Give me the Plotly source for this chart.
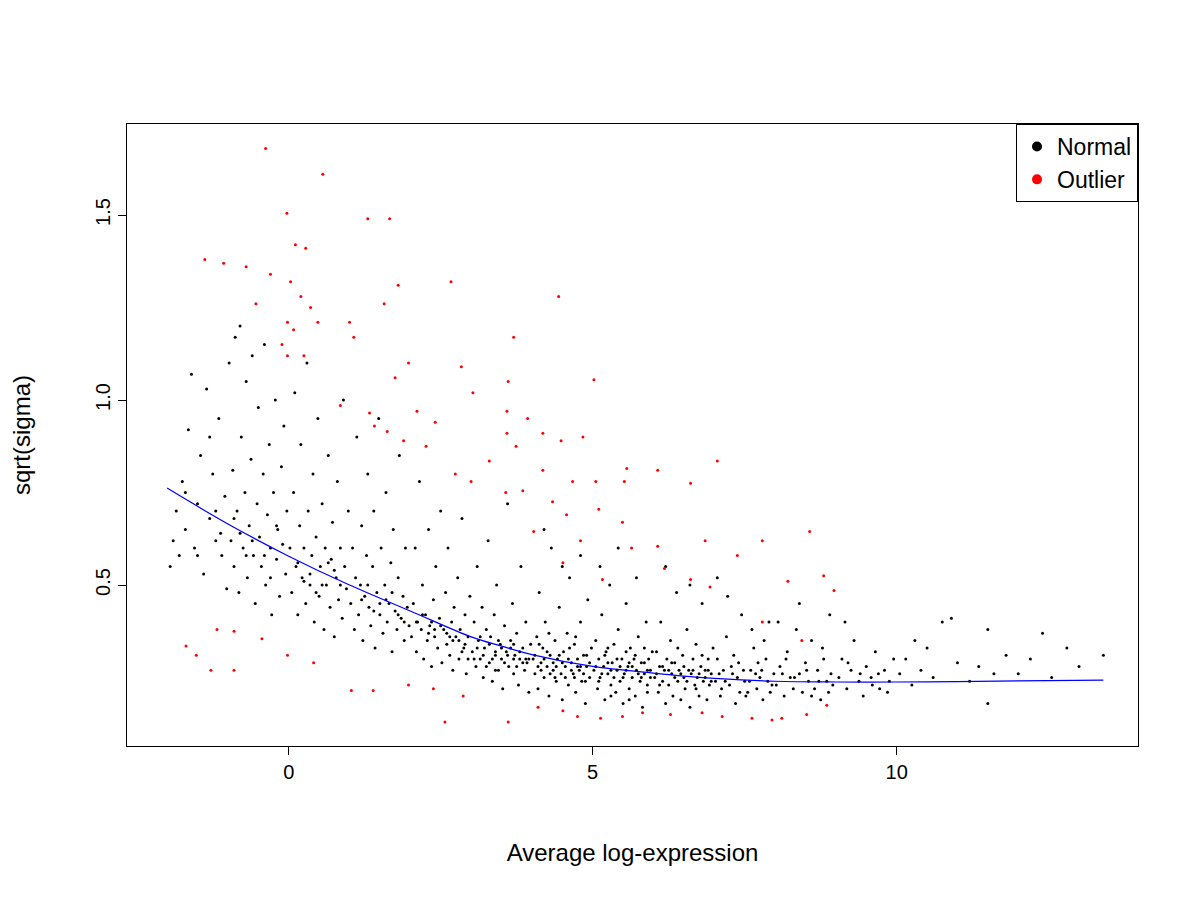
import plotly.graph_objects as go

# Points (Average log-expression, sqrt(sigma))
normal_pts = [
    (-1.95,0.55),(-1.9,0.62),(-1.85,0.7),(-1.8,0.58),(-1.75,0.78),(-1.7,0.65),(-1.65,0.92),(-1.6,1.07),(-1.55,0.6),(-1.5,0.72),
    (-1.45,0.85),(-1.4,0.53),(-1.35,1.03),(-1.3,0.68),(-1.25,0.8),(-1.2,0.62),(-1.15,0.95),(-1.1,0.58),(-1.05,0.74),(-1.02,0.49),
    (-1.7,0.75),(-1.5,0.58),(-1.3,0.9),(-1.2,0.7),(-1.12,0.64),
    (-0.98,1.1),(-0.95,0.62),(-0.92,0.81),(-0.9,0.55),(-0.88,1.17),(-0.85,0.7),(-0.82,0.48),(-0.8,1.2),(-0.78,0.9),(-0.75,0.6),
    (-0.72,0.75),(-0.7,1.05),(-0.68,0.52),(-0.65,0.66),(-0.62,0.84),(-0.6,1.12),(-0.58,0.58),(-0.55,0.45),(-0.52,0.72),(-0.5,0.98),
    (-0.48,0.63),(-0.45,0.55),(-0.42,0.8),(-0.4,1.15),(-0.38,0.5),(-0.35,0.69),(-0.32,0.88),(-0.3,0.6),(-0.28,0.42),(-0.25,0.75),
    (-0.22,1.0),(-0.2,0.57),(-0.18,0.65),(-0.15,0.47),(-0.12,0.82),(-0.1,0.61),(-0.08,0.93),(-0.05,0.53),(-0.03,0.7),(-0.6,0.62),
    (-0.4,0.58),(-0.2,0.66),(-0.8,0.64),(-0.9,0.68),(-0.7,0.58),(-0.3,0.52),
    (0.02,0.6),(0.05,0.48),(0.08,0.75),(0.1,1.02),(0.12,0.55),(0.15,0.42),(0.18,0.66),(0.2,0.88),(0.22,0.52),(0.25,0.6),
    (0.28,0.45),(0.3,1.1),(0.32,0.7),(0.35,0.5),(0.38,0.58),(0.4,0.8),(0.42,0.4),(0.45,0.63),(0.48,0.95),(0.5,0.47),
    (0.52,0.55),(0.55,0.72),(0.58,0.38),(0.6,0.6),(0.62,0.5),(0.65,0.85),(0.68,0.44),(0.7,0.57),(0.72,0.67),(0.75,0.36),
    (0.78,0.52),(0.8,0.78),(0.82,0.46),(0.85,0.6),(0.88,0.41),(0.9,1.0),(0.92,0.55),(0.95,0.49),(0.98,0.7),(0.15,0.56),
    (0.35,0.53),(0.55,0.5),(0.75,0.54),(0.45,0.48),(0.65,0.56),(0.25,0.51),(0.85,0.5),
    (1.02,0.45),(1.05,0.6),(1.08,0.38),(1.1,0.52),(1.12,0.9),(1.15,0.42),(1.18,0.5),(1.2,0.66),(1.22,0.35),(1.25,0.47),
    (1.28,0.58),(1.3,0.8),(1.32,0.44),(1.35,0.39),(1.38,0.55),(1.4,0.7),(1.42,0.33),(1.45,0.48),(1.48,0.95),(1.5,0.42),
    (1.52,0.6),(1.55,0.37),(1.58,0.5),(1.6,0.75),(1.62,0.4),(1.65,0.45),(1.68,0.56),(1.7,0.32),(1.72,0.65),(1.75,0.43),
    (1.78,0.38),(1.8,0.52),(1.82,0.85),(1.85,0.41),(1.88,0.47),(1.9,0.35),(1.92,0.6),(1.95,0.44),(1.98,0.39),(1.2,0.46),
    (1.4,0.43),(1.6,0.46),(1.8,0.42),(1.3,0.5),(1.5,0.45),(1.7,0.48),(1.9,0.4),
    (2.02,0.36),(2.05,0.45),(2.08,0.6),(2.1,0.32),(2.12,0.4),(2.15,0.78),(2.18,0.38),(2.2,0.5),(2.22,0.3),(2.25,0.42),
    (2.28,0.35),(2.3,0.65),(2.32,0.39),(2.35,0.28),(2.38,0.46),(2.4,0.36),(2.42,0.55),(2.45,0.33),(2.48,0.41),(2.5,0.7),
    (2.52,0.29),(2.55,0.38),(2.58,0.48),(2.6,0.34),(2.62,0.6),(2.65,0.31),(2.68,0.4),(2.7,0.27),(2.72,0.44),(2.75,0.36),
    (2.78,0.52),(2.8,0.3),(2.82,0.38),(2.85,0.68),(2.88,0.33),(2.9,0.42),(2.92,0.26),(2.95,0.36),(2.98,0.47),(2.1,0.4),
    (2.3,0.37),(2.5,0.39),(2.7,0.35),(2.9,0.34),(2.2,0.42),(2.4,0.38),(2.6,0.37),(2.8,0.35),(2.35,0.4),(2.65,0.36),
    (2.85,0.32),(2.95,0.3),
    (3.02,0.32),(3.05,0.4),(3.08,0.28),(3.1,0.55),(3.12,0.35),(3.15,0.3),(3.18,0.44),(3.2,0.25),(3.22,0.33),(3.25,0.38),
    (3.28,0.62),(3.3,0.29),(3.32,0.36),(3.35,0.24),(3.38,0.42),(3.4,0.31),(3.42,0.5),(3.45,0.27),(3.48,0.34),(3.5,0.3),
    (3.52,0.22),(3.55,0.39),(3.58,0.32),(3.6,0.72),(3.62,0.28),(3.65,0.35),(3.68,0.45),(3.7,0.26),(3.72,0.31),(3.75,0.37),
    (3.78,0.23),(3.8,0.3),(3.82,0.55),(3.85,0.33),(3.88,0.27),(3.9,0.4),(3.92,0.29),(3.95,0.21),(3.98,0.34),(3.1,0.33),
    (3.2,0.31),(3.3,0.34),(3.4,0.32),(3.5,0.33),(3.6,0.31),(3.7,0.3),(3.8,0.32),(3.9,0.3),(3.15,0.36),(3.35,0.3),
    (3.55,0.29),(3.75,0.28),(3.95,0.3),(3.25,0.28),(3.45,0.35),(3.65,0.33),(3.85,0.29),(3.05,0.3),(3.4,0.27),(3.7,0.34),
    (4.02,0.3),(4.05,0.26),(4.08,0.36),(4.1,0.22),(4.12,0.48),(4.15,0.29),(4.18,0.33),(4.2,0.25),(4.22,0.4),(4.25,0.28),
    (4.28,0.2),(4.3,0.31),(4.32,0.6),(4.35,0.27),(4.38,0.35),(4.4,0.24),(4.42,0.3),(4.45,0.44),(4.48,0.26),(4.5,0.19),
    (4.52,0.32),(4.55,0.28),(4.58,0.37),(4.6,0.23),(4.62,0.52),(4.65,0.29),(4.68,0.26),(4.7,0.34),(4.72,0.21),(4.75,0.3),
    (4.78,0.27),(4.8,0.4),(4.82,0.24),(4.85,0.31),(4.88,0.18),(4.9,0.28),(4.92,0.46),(4.95,0.25),(4.98,0.33),(4.05,0.31),
    (4.15,0.27),(4.25,0.32),(4.35,0.29),(4.45,0.31),(4.55,0.25),(4.65,0.27),(4.75,0.28),(4.85,0.26),(4.95,0.29),(4.1,0.28),
    (4.2,0.3),(4.3,0.26),(4.4,0.28),(4.5,0.29),(4.6,0.3),(4.7,0.25),(4.8,0.28),(4.9,0.31),(4.12,0.34),(4.38,0.25),
    (4.62,0.33),(4.88,0.24),(4.28,0.37),(4.72,0.36),(4.5,0.55),(4.2,0.65),(4.8,0.58),
    (5.02,0.27),(5.05,0.35),(5.08,0.22),(5.1,0.3),(5.12,0.25),(5.15,0.42),(5.18,0.28),(5.2,0.19),(5.22,0.32),(5.25,0.26),
    (5.28,0.5),(5.3,0.23),(5.32,0.29),(5.35,0.34),(5.38,0.21),(5.4,0.27),(5.42,0.38),(5.45,0.24),(5.48,0.3),(5.5,0.18),
    (5.52,0.26),(5.55,0.45),(5.58,0.28),(5.6,0.22),(5.62,0.33),(5.65,0.25),(5.68,0.3),(5.7,0.2),(5.72,0.27),(5.75,0.36),
    (5.78,0.24),(5.8,0.29),(5.82,0.17),(5.85,0.26),(5.88,0.4),(5.9,0.23),(5.92,0.3),(5.95,0.25),(5.98,0.32),(5.05,0.28),
    (5.15,0.26),(5.25,0.29),(5.35,0.25),(5.45,0.28),(5.55,0.27),(5.65,0.28),(5.75,0.26),(5.85,0.29),(5.95,0.27),(5.1,0.24),
    (5.2,0.31),(5.3,0.27),(5.4,0.3),(5.5,0.25),(5.6,0.29),(5.7,0.31),(5.8,0.25),(5.9,0.27),(5.12,0.55),(5.42,0.6),
    (5.72,0.52),(5.3,0.2),(5.6,0.19),(5.9,0.21),(5.25,0.33),(5.55,0.32),(5.85,0.33),
    (6.02,0.25),(6.05,0.32),(6.08,0.21),(6.1,0.28),(6.12,0.4),(6.15,0.24),(6.18,0.27),(6.2,0.18),(6.22,0.3),(6.25,0.23),
    (6.28,0.35),(6.3,0.26),(6.32,0.2),(6.35,0.29),(6.38,0.48),(6.4,0.24),(6.42,0.27),(6.45,0.19),(6.48,0.31),(6.5,0.25),
    (6.52,0.22),(6.55,0.38),(6.58,0.27),(6.6,0.17),(6.62,0.26),(6.65,0.3),(6.68,0.23),(6.7,0.34),(6.72,0.25),(6.75,0.2),
    (6.78,0.28),(6.8,0.45),(6.82,0.24),(6.85,0.27),(6.88,0.19),(6.9,0.3),(6.92,0.23),(6.95,0.26),(6.98,0.33),(6.05,0.26),
    (6.15,0.28),(6.25,0.27),(6.35,0.25),(6.45,0.26),(6.55,0.24),(6.65,0.27),(6.75,0.26),(6.85,0.25),(6.95,0.24),(6.1,0.23),
    (6.3,0.29),(6.5,0.28),(6.7,0.22),(6.9,0.27),(6.2,0.55),(6.6,0.5),(6.4,0.33),(6.8,0.31),
    (7.02,0.24),(7.05,0.3),(7.1,0.2),(7.15,0.27),(7.2,0.36),(7.25,0.23),(7.3,0.26),(7.35,0.18),(7.4,0.29),(7.45,0.42),
    (7.5,0.24),(7.55,0.21),(7.6,0.27),(7.65,0.33),(7.7,0.22),(7.75,0.25),(7.8,0.19),(7.85,0.3),(7.9,0.4),(7.95,0.23),
    (7.08,0.26),(7.18,0.24),(7.28,0.28),(7.38,0.25),(7.48,0.27),(7.58,0.24),(7.68,0.26),(7.78,0.27),(7.88,0.24),(7.98,0.26),
    (7.12,0.22),(7.32,0.31),(7.52,0.2),(7.72,0.29),(7.92,0.21),(7.22,0.47),(7.62,0.38),(7.42,0.21),(7.82,0.35),(7.05,0.52),
    (8.02,0.23),(8.08,0.28),(8.15,0.2),(8.2,0.32),(8.25,0.25),(8.3,0.22),(8.35,0.38),(8.4,0.26),(8.45,0.21),(8.5,0.29),
    (8.55,0.24),(8.6,0.35),(8.65,0.22),(8.7,0.27),(8.75,0.19),(8.8,0.3),(8.85,0.24),(8.9,0.42),(8.95,0.23),(8.12,0.26),
    (8.32,0.25),(8.52,0.27),(8.72,0.24),(8.92,0.26),(8.4,0.45),(8.6,0.2),(8.18,0.3),(8.78,0.33),(8.05,0.4),(8.88,0.21),
    (9.05,0.25),(9.1,0.3),(9.18,0.22),(9.25,0.27),(9.3,0.35),(9.38,0.24),(9.45,0.2),(9.5,0.28),(9.58,0.25),(9.65,0.32),
    (9.72,0.22),(9.8,0.27),(9.88,0.24),(9.95,0.3),(9.15,0.4),(9.4,0.26),(9.6,0.23),(9.85,0.21),(9.2,0.29),(9.7,0.26),
    (10.05,0.26),(10.15,0.3),(10.25,0.23),(10.4,0.27),(10.5,0.33),(10.6,0.25),(10.75,0.4),(10.9,0.41),(11.0,0.29),(11.2,0.24),
    (11.35,0.28),(11.5,0.38),(11.6,0.26),(11.8,0.31),(12.0,0.26),(12.2,0.3),(12.4,0.37),(12.55,0.25),(12.8,0.33),(13.0,0.28),
    (13.4,0.31),(11.5,0.18),(10.3,0.35),
]

outlier_pts = [
    (-0.38,1.68),(0.56,1.61),(-0.03,1.505),(1.3,1.49),(1.66,1.49),(-1.38,1.38),(-1.07,1.37),(-0.7,1.36),(0.11,1.42),(0.28,1.41),
    (2.67,1.32),(1.8,1.31),(1.57,1.26),(-0.54,1.26),(-0.3,1.34),(0.03,1.32),(0.2,1.28),(0.36,1.25),(0.48,1.21),(-0.02,1.21),
    (0.08,1.19),(1.0,1.21),(1.07,1.17),(3.7,1.17),(4.44,1.28),(-0.11,1.15),(0.25,1.12),(-0.02,1.12),(1.97,1.1),(1.75,1.06),
    (2.84,1.09),(3.03,1.02),(3.61,1.05),(5.02,1.055),(0.85,0.985),(1.33,0.965),(1.62,0.915),(2.11,0.97),(2.41,0.94),(1.89,0.89),
    (1.41,0.93),(2.26,0.875),(3.59,0.97),(3.93,0.95),(4.18,0.91),(4.48,0.89),(4.84,0.9),(3.59,0.91),(3.74,0.875),(2.74,0.8),
    (3.0,0.78),(3.3,0.835),(3.57,0.75),(3.85,0.755),(4.18,0.81),(4.34,0.725),(4.67,0.78),(5.05,0.78),(5.56,0.815),(5.52,0.78),
    (6.07,0.81),(7.05,0.835),(6.61,0.775),(5.49,0.67),(5.1,0.705),(4.57,0.69),(4.03,0.645),(4.8,0.62),(5.64,0.6),(6.07,0.605),
    (6.85,0.62),(7.79,0.62),(8.57,0.645),(8.8,0.525),(8.97,0.485),(8.21,0.51),(7.38,0.58),(6.61,0.515),(6.93,0.495),(5.16,0.515),
    (4.51,0.56),(6.18,0.545),(7.79,0.4),(8.44,0.35),
    (-1.69,0.335),(-1.52,0.31),(-1.28,0.27),(-1.18,0.38),(-0.9,0.375),(-0.02,0.31),(0.41,0.29),(1.03,0.215),(1.39,0.215),(1.97,0.23),
    (2.38,0.22),(2.57,0.13),(2.87,0.2),(3.61,0.13),(4.1,0.17),(4.51,0.16),(4.75,0.145),(5.13,0.14),(5.49,0.145),(5.82,0.155),
    (6.28,0.15),(6.8,0.155),(7.13,0.145),(7.62,0.14),(7.95,0.135),(8.11,0.14),(8.52,0.15),(8.85,0.175),(-0.9,0.27),(-0.44,0.355),
]

trend_x = [-2.0, -1.0, 0.0, 1.0, 2.0, 3.0, 3.5, 4.0, 5.0, 6.0, 6.5, 7.0, 8.0, 9.0, 10.0, 11.0, 12.0, 13.4]
trend_y = [0.762, 0.665, 0.578, 0.5, 0.43, 0.36, 0.335, 0.312, 0.28, 0.262, 0.254, 0.248, 0.24, 0.238, 0.238, 0.239, 0.241, 0.243]

FONT = "Liberation Sans, Arial, sans-serif"

fig = go.Figure()
fig.add_trace(go.Scatter(
    x=[p[0] for p in normal_pts], y=[p[1] for p in normal_pts],
    mode="markers", marker=dict(color="black", size=3), showlegend=False,
))
fig.add_trace(go.Scatter(
    x=[p[0] for p in outlier_pts], y=[p[1] for p in outlier_pts],
    mode="markers", marker=dict(color="red", size=3), showlegend=False,
))
fig.add_trace(go.Scatter(
    x=trend_x, y=trend_y, mode="lines", line=dict(color="blue", width=1.2, shape="spline"),
    showlegend=False,
))
# legend-only entries with bigger dots
for name, col in [("Normal", "black"), ("Outlier", "red")]:
    fig.add_trace(go.Scatter(x=[None], y=[None], mode="markers", name=name,
                             marker=dict(color=col, size=10)))

fig.update_layout(
    width=1200, height=900,
    paper_bgcolor="white", plot_bgcolor="white",
    margin=dict(l=116, r=70, t=116, b=162),
    font=dict(family=FONT, size=20, color="black"),
    legend=dict(x=1, y=1, xanchor="right", yanchor="top",
                bordercolor="black", borderwidth=1, bgcolor="white",
                font=dict(size=23), itemwidth=30, tracegroupgap=0),
)
fig.update_xaxes(
    range=[-2.66, 13.97], tickvals=[0, 5, 10], showgrid=False, zeroline=False,
    showline=True, linecolor="black", linewidth=1, mirror=True,
    ticks="outside", ticklen=8, tickcolor="black", tickfont=dict(size=20),
    title=dict(text="Average log-expression", standoff=62),
)
fig.update_yaxes(
    range=[0.065, 1.746], tickvals=[0.5, 1.0, 1.5], ticktext=["0.5", "1.0", "1.5"],
    tickangle=-90, showgrid=False, zeroline=False,
    showline=True, linecolor="black", linewidth=1, mirror=True,
    ticks="outside", ticklen=8, tickcolor="black", tickfont=dict(size=20),
    title=dict(text="sqrt(sigma)", standoff=55),
)

fig.write_html("out.html")
